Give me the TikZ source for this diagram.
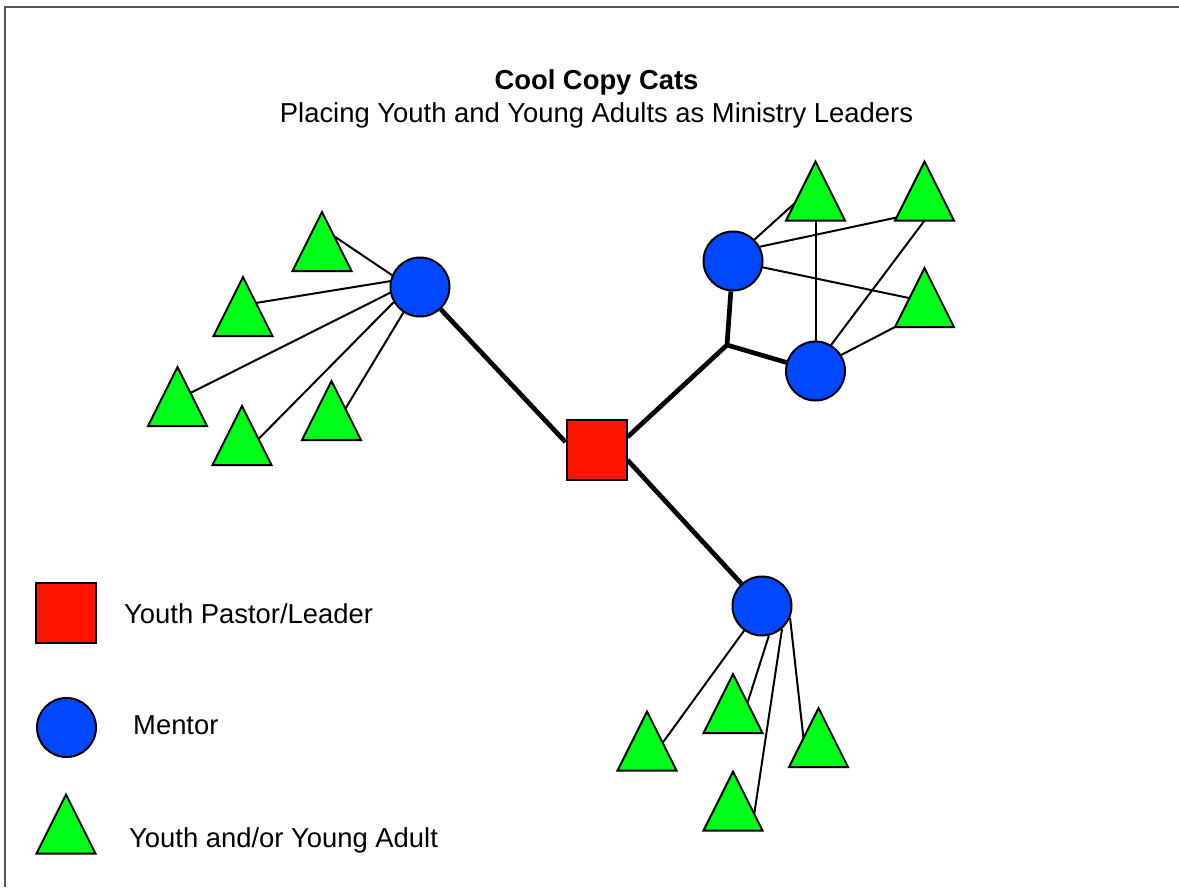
\documentclass[tikz,border=0pt]{standalone}
\usepackage{fontspec}
\setmainfont{Liberation Sans}
\usetikzlibrary{calc}
\definecolor{sqred}{RGB}{255,20,0}
\definecolor{mblue}{RGB}{0,72,255}
\definecolor{ygreen}{RGB}{0,255,24}
\definecolor{framegray}{RGB}{85,85,85}
\tikzset{
  leader/.style={draw=black, fill=sqred, line width=2pt, minimum size=60pt, inner sep=0pt, shape=rectangle},
  mentor/.style={draw=black, fill=mblue, line width=2pt, minimum size=59pt, inner sep=0pt, shape=circle},
  tribody/.style={draw=black, fill=ygreen, line width=2pt, line join=miter},
  tri/.pic={
    \path[tribody] (-29.5,29.5) coordinate (-bl) -- (0,-29.5) coordinate (-apex) -- (29.5,29.5) coordinate (-br) -- cycle;
    \coordinate (-b) at (0,29.5);
  },
  link/.style={draw=black, line width=2pt},
  trunk/.style={draw=black, line width=4.7pt},
  txt/.style={font=\fontsize{27.4}{33}\selectfont, inner sep=0pt},
}
\begin{document}
\begin{tikzpicture}[x=1pt,y=-1pt]
\useasboundingbox (0,0) rectangle (1179,887);
\fill[white] (0,0) rectangle (1179,887);
\coordinate (fb) at (4.5,887);
\coordinate (ftl) at (4.5,6.5);
\coordinate (ftr) at (1179,6.5);
\draw[framegray, line width=2pt] (fb) -- (ftl) -- (ftr);

% title
\node[txt, anchor=base, font=\fontsize{27.4}{33}\selectfont\bfseries] (title) at (596.5,89) {Cool Copy Cats};
\node[txt, anchor=base] (subtitle) at (596.5,122) {Placing Youth and Young Adults as Ministry Leaders};

% main nodes
\node[leader] (S) at (596.5,450) {};
\node[mentor] (ML) at (420,287) {};
\node[mentor] (M1) at (733,261) {};
\node[mentor] (M2) at (815.5,371) {};
\node[mentor] (MB) at (762,606) {};
\coordinate (J) at (727,345);

% triangles
\pic (L1) at (322,241.5) {tri};
\pic (L2) at (243,306.5) {tri};
\pic (L3) at (177.5,396.5) {tri};
\pic (L4) at (242,435.5) {tri};
\pic (L5) at (331.5,410.5) {tri};
\pic (A) at (815.5,191) {tri};
\pic (B) at (924.5,191) {tri};
\pic (C) at (924.5,297.5) {tri};
\pic (B1) at (647,741) {tri};
\pic (B2) at (733,703.5) {tri};
\pic (B3) at (733,801) {tri};
\pic (B4) at (818.5,737.5) {tri};

% thick trunk lines
\draw[trunk] (ML.313) -- ([yshift=8pt]S.west);
\draw[trunk] ([yshift=13pt]S.east) -- (J) -- (M2);
\draw[trunk] (J) -- (M1);
\draw[trunk] ([yshift=-10pt]S.east) -- (MB);

% left cluster links
\draw[link] (ML.157) -- ($(L1-br)!0.59!(L1-apex)$);
\draw[link] (ML.169) -- ($(L2-br)!0.56!(L2-apex)$);
\draw[link] (ML.191) -- ($(L3-br)!0.56!(L3-apex)$);
\draw[link] (ML.210) -- ($(L4-br)!0.44!(L4-apex)$);
\draw[link] (ML.237) -- ($(L5-br)!0.53!(L5-apex)$);

% top right cluster links
\draw[link] (M1.45) -- ($(A-bl)!0.29!(A-apex)$);
\draw[link] (M1.28) -- ($(B-bl)!0.05!(B-apex)$);
\draw[link] (M1.348) -- ($(C-bl)!0.49!(C-apex)$);
\draw[link] (M2) -- (A-b);
\draw[link] (M2.59) -- (B-b);
\draw[link] (M2.32) -- (C-bl);

% bottom cluster links
\draw[link] (MB.234) -- ($(B1-br)!0.47!(B1-apex)$);
\draw[link] (MB.283) -- ($(B2-br)!0.51!(B2-apex)$);
\draw[link] (MB.311) -- ($(B3-br)!0.28!(B3-apex)$);
\draw[link] (MB.337) -- ($(B4-bl)!0.49!(B4-apex)$);

% legend
\node[leader] (legS) at (66,612.5) {};
\node[mentor] (legM) at (66.5,727.5) {};
\pic (legT) at (66,824) {tri};
\node[txt, anchor=base west] (legSt) at (124,623) {Youth Pastor/Leader};
\node[txt, anchor=base west] (legMt) at (133,734) {Mentor};
\node[txt, anchor=base west] (legTt) at (129,847) {Youth and/or Young Adult};
\end{tikzpicture}
\end{document}
